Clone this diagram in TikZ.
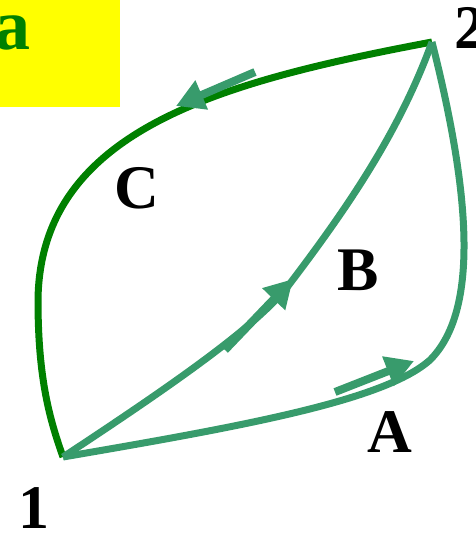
\documentclass[tikz,border=0pt]{standalone}
\usepackage{fontspec}
\setmainfont{Liberation Serif}
\usetikzlibrary{arrows.meta}
\definecolor{teal1}{RGB}{56,155,108}
\definecolor{dgreen}{RGB}{0,128,0}
\definecolor{yel}{RGB}{255,255,0}
\begin{document}
\begin{tikzpicture}[x=1pt,y=-1pt,
  curveA/.style={draw=teal1,line width=7pt},
  curveC/.style={draw=dgreen,line width=7pt},
  flowarrow/.style={draw=teal1,line width=8pt,-{Triangle[length=28pt,width=30pt]}},
  lbl/.style={font=\bfseries\fontsize{62}{62}\selectfont,text=black,inner sep=0pt}]
\useasboundingbox (0,0) rectangle (476,533);
\fill[yel] (0,0) rectangle (120,107);
\node[font=\bfseries\fontsize{72}{72}\selectfont,text=dgreen,inner sep=0pt,anchor=base west] (ta) at (-6,49) {a};
\coordinate (p1) at (63,457);
\coordinate (p2) at (432,42);
% C
\path[curveC] (p2) .. controls (220,82) and (40,130) .. (38,300) .. controls (38,380) and (50,420) .. (p1);
% A
\path[curveA] (p1) .. controls (250,425) and (385,400) .. (430,360) .. controls (478,312) and (472,200) .. (p2);
% B
\path[curveA] (p1) .. controls (180,380) and (250,330) .. (285,290) .. controls (350,205) and (400,130) .. (p2);
% arrows
\coordinate (cs) at (255,72); \coordinate (ce) at (176,106);
\coordinate (as) at (335,392); \coordinate (ae) at (414,361);
\coordinate (bs) at (225,350); \coordinate (be) at (293,279);
\draw[flowarrow] (cs) -- (ce);
\draw[flowarrow] (as) -- (ae);
\draw[flowarrow] (bs) -- (be);
% labels
\node[lbl] (l2) at (470,28) {2};
\node[lbl] (l1) at (34,508) {1};
\node[lbl] (lC) at (137,188) {C};
\node[lbl] (lB) at (358,270) {B};
\node[lbl] (lA) at (390,432) {A};
\end{tikzpicture}
\end{document}
